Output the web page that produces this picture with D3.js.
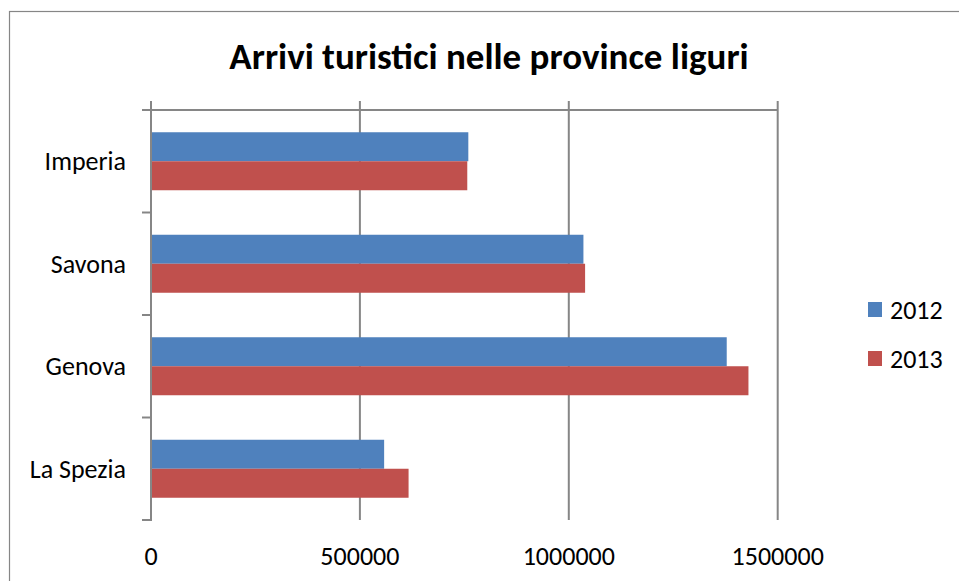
<!DOCTYPE html>
<html>
<head>
<meta charset="utf-8">
<script src="https://cdn.jsdelivr.net/npm/d3@7"></script>
<style>
  html, body { margin: 0; background: #fff; overflow: hidden; }
  svg { display: block; overflow: hidden; font-family: Carlito, Calibri, "Open Sans", sans-serif; }
</style>
</head>
<body>
<svg width="959" height="581"></svg>
<script>
// dati
var province = ["Imperia", "Savona", "Genova", "La Spezia"];
var anni = ["2012", "2013"];
var arrivi2012 = [759500, 1035000, 1378000, 558000];
var arrivi2013 = [757000, 1039000, 1430000, 616500];
var xTicks = [0, 500000, 1000000, 1500000];
var colori = ["#4F81BD", "#C0504D"];
var titolo = "Arrivi turistici nelle province liguri";

var svg = d3.select("svg");
var grigio = "#868686";

// cornice del grafico
svg.append("rect")
    .attr("x", 9.5).attr("y", 11.5)
    .attr("width", 1100).attr("height", 700)
    .attr("fill", "none").attr("stroke", grigio).attr("stroke-width", 1.2);

var plotL = 151, plotR = 777.7, plotT = 110, plotB = 520;

var x = d3.scaleLinear().domain([0, 1500000]).range([plotL, plotR]);
var y0 = d3.scaleBand().domain(province).range([plotT, plotB]);
var y1 = d3.scaleBand().domain(anni).range([22.25, y0.bandwidth() - 22.25]);

var data = province.map(function (p, i) {
    return {prov: p, valori: [arrivi2012[i], arrivi2013[i]]};
});

var g = svg.append("g");

// griglia verticale
g.append("g")
    .selectAll("line")
    .data(xTicks.slice(1))
    .enter().append("line")
    .attr("x1", function (d) { return x(d); })
    .attr("x2", function (d) { return x(d); })
    .attr("y1", plotT - 9).attr("y2", plotB)
    .attr("stroke", grigio).attr("stroke-width", 2);

// barre
g.append("g")
    .selectAll("g")
    .data(data)
    .enter().append("g")
    .attr("transform", function (d) { return "translate(0," + y0(d.prov) + ")"; })
    .selectAll("rect")
    .data(function (d) {
        return anni.map(function (a, k) { return {anno: a, k: k, value: d.valori[k]}; });
    })
    .enter().append("rect")
    .attr("x", x(0))
    .attr("y", function (d) { return y1(d.anno); })
    .attr("width", function (d) { return x(d.value) - x(0); })
    .attr("height", y1.bandwidth())
    .attr("fill", function (d) { return colori[d.k]; });

// asse delle categorie
var axisG = g.append("g");
axisG.append("line")
    .attr("x1", plotL).attr("x2", plotL)
    .attr("y1", plotT - 9).attr("y2", plotB + 1)
    .attr("stroke", grigio).attr("stroke-width", 2);
axisG.append("line")
    .attr("x1", plotL - 9).attr("x2", plotR)
    .attr("y1", plotT).attr("y2", plotT)
    .attr("stroke", grigio).attr("stroke-width", 2);
var tickY = province.map(function (p) { return y0(p); }).concat([plotB]);
axisG.selectAll("line.tick")
    .data(tickY.slice(1))
    .enter().append("line")
    .attr("class", "tick")
    .attr("x1", plotL - 9).attr("x2", plotL)
    .attr("y1", function (d) { return d; })
    .attr("y2", function (d) { return d; })
    .attr("stroke", grigio).attr("stroke-width", 2);

axisG.selectAll("text")
    .data(province)
    .enter().append("text")
    .attr("x", plotL - 25)
    .attr("y", function (d) { return y0(d) + y0.bandwidth() / 2; })
    .attr("dy", "0.35em")
    .attr("text-anchor", "end")
    .attr("font-size", 26)
    .attr("fill", "#000")
    .text(function (d) { return d; });

// etichette asse x
g.append("g")
    .selectAll("text")
    .data(xTicks)
    .enter().append("text")
    .attr("x", function (d) { return x(d); })
    .attr("y", 556)
    .attr("dy", "0.35em")
    .attr("text-anchor", "middle")
    .attr("font-size", 26)
    .attr("fill", "#000")
    .text(function (d) { return d; });

// titolo
svg.append("text")
    .attr("x", 489).attr("y", 56)
    .attr("dy", "0.35em")
    .attr("text-anchor", "middle")
    .attr("font-size", 37)
    .attr("font-weight", "bold")
    .attr("fill", "#000")
    .text(titolo);

// legenda
var legend = svg.append("g")
    .selectAll("g")
    .data(anni)
    .enter().append("g")
    .attr("transform", function (d, i) { return "translate(868," + (302 + i * 49) + ")"; });
legend.append("rect")
    .attr("width", 14).attr("height", 15)
    .attr("fill", function (d, i) { return colori[i]; });
legend.append("text")
    .attr("x", 22).attr("y", 7.5)
    .attr("dy", "0.35em")
    .attr("font-size", 26)
    .attr("fill", "#000")
    .text(function (d) { return d; });
</script>
</body>
</html>
